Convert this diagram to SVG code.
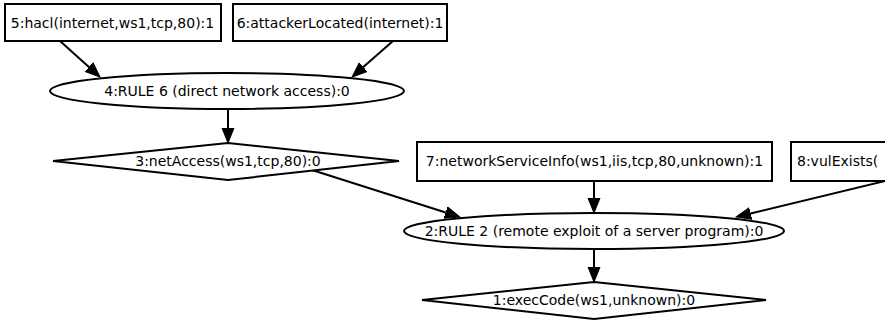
<svg xmlns="http://www.w3.org/2000/svg" width="885" height="324" viewBox="0 0 885 324">
<style>
.n{fill:#fff;stroke:#000;stroke-width:2}
.t{font-family:"DejaVu Sans",sans-serif;font-size:14px;fill:#000}
.c{text-anchor:middle}
.e{stroke:#000;stroke-width:2;fill:none;marker-end:url(#a)}
</style>
<defs>
<marker id="a" markerUnits="userSpaceOnUse" viewBox="0 -7 17 14" refX="0" refY="0" markerWidth="17" markerHeight="14" orient="auto">
<path d="M0,-6 L15,0 L0,6 z" fill="#000" stroke="#000" stroke-width="1"/>
</marker>
</defs>
<rect width="885" height="324" fill="#fff"/>
<g id="edges">
<line class="e" x1="60" y1="41" x2="88.9" y2="67"/>
<line class="e" x1="393" y1="41" x2="363.3" y2="67.1"/>
<line class="e" x1="228" y1="109" x2="228" y2="128"/>
<line class="e" x1="312" y1="170" x2="445.7" y2="212.5"/>
<line class="e" x1="594" y1="181" x2="594" y2="198"/>
<line class="e" x1="887" y1="180.5" x2="750.6" y2="213.5"/>
<line class="e" x1="594" y1="249" x2="594" y2="267"/>
</g>
<g id="n5"><rect class="n" x="5" y="4" width="216" height="37"/><text class="t c" x="112.5" y="27.5">5:hacl(internet,ws1,tcp,80):1</text></g>
<g id="n6"><rect class="n" x="233" y="4" width="214" height="37"/><text class="t c" x="340" y="27.5">6:attackerLocated(internet):1</text></g>
<g id="n4"><ellipse class="n" cx="227" cy="91" rx="177" ry="18"/><text class="t c" x="227" y="96">4:RULE 6 (direct network access):0</text></g>
<g id="n3"><polygon class="n" points="228,143 399,161 228,180 53,161"/><text class="t c" x="228" y="166">3:netAccess(ws1,tcp,80):0</text></g>
<g id="n7"><rect class="n" x="417" y="142" width="355" height="39"/><text class="t c" x="594.5" y="166">7:networkServiceInfo(ws1,iis,tcp,80,unknown):1</text></g>
<g id="n8"><rect class="n" x="791" y="142" width="200" height="39"/><text class="t" x="797" y="166">8:vulExists(</text></g>
<g id="n2"><ellipse class="n" cx="594" cy="231" rx="190" ry="18"/><text class="t c" x="594" y="236">2:RULE 2 (remote exploit of a server program):0</text></g>
<g id="n1"><polygon class="n" points="594,282 766,300 594,319 422,300"/><text class="t c" x="594" y="305">1:execCode(ws1,unknown):0</text></g>
</svg>
